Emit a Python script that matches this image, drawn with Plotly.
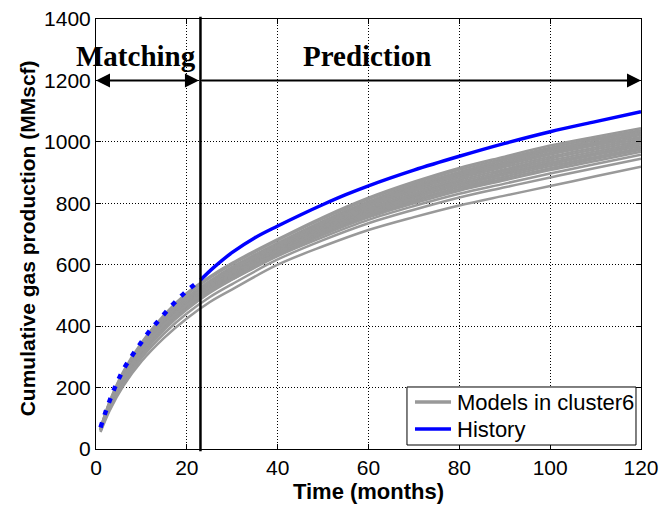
import plotly.graph_objects as go

# Observed production history (months, cumulative gas in MMscf)
hist_months = [1, 2, 3, 4, 5, 6, 8, 10, 12, 14, 16, 18, 20, 23, 26, 30, 35, 40,
               45, 50, 55, 60, 70, 80, 90, 100, 110, 120]
hist_gas = [70, 116, 157, 195, 228, 258, 305, 348, 388, 422, 456, 487, 515, 550,
            592, 640, 688, 726, 762, 796, 828, 857, 908, 953, 995, 1033, 1066, 1098]

# End of the history-matching window (months)
match_end = 23

# Simulated cumulative production of each model in cluster 6
model_months = [1, 3, 6, 10, 15, 20, 25, 30, 40, 50, 60, 70, 80, 90, 100, 110, 120]
model_runs = [
    [68, 155, 252, 346, 437, 508, 561, 606, 683, 755, 818, 870, 915, 952, 988, 1017, 1044],
    [67, 153, 248, 341, 431, 502, 556, 601, 679, 750, 813, 864, 909, 946, 981, 1011, 1038],
    [61, 138, 225, 311, 396, 466, 525, 578, 666, 742, 806, 858, 902, 940, 975, 1005, 1033],
    [66, 150, 243, 335, 424, 494, 547, 593, 671, 742, 803, 854, 898, 934, 970, 999, 1027],
    [66, 148, 240, 331, 419, 489, 542, 589, 668, 738, 799, 849, 893, 929, 964, 994, 1022],
    [65, 146, 236, 326, 414, 484, 538, 585, 665, 734, 795, 845, 888, 924, 959, 989, 1016],
    [65, 145, 234, 324, 410, 480, 534, 581, 661, 729, 790, 839, 882, 918, 952, 982, 1010],
    [64, 143, 232, 321, 407, 476, 530, 576, 656, 725, 784, 833, 876, 911, 946, 976, 1004],
    [63, 142, 230, 318, 404, 472, 527, 572, 652, 720, 779, 828, 870, 905, 939, 969, 998],
    [63, 141, 228, 316, 400, 469, 523, 568, 648, 715, 774, 822, 864, 899, 933, 963, 992],
    [62, 140, 227, 314, 398, 466, 520, 565, 645, 711, 770, 817, 859, 894, 927, 958, 986],
    [61, 138, 225, 311, 394, 462, 516, 561, 641, 707, 765, 811, 853, 887, 921, 951, 980],
    [61, 137, 223, 308, 391, 458, 512, 557, 637, 702, 759, 806, 847, 881, 914, 945, 974],
    [60, 136, 221, 306, 388, 454, 508, 552, 632, 697, 754, 800, 841, 875, 908, 938, 968],
    [64, 143, 232, 321, 405, 470, 515, 552, 628, 690, 746, 791, 831, 864, 897, 928, 958],
    [58, 131, 213, 296, 376, 441, 494, 537, 617, 680, 735, 779, 819, 852, 884, 915, 945],
    [55, 125, 205, 285, 362, 425, 478, 520, 600, 660, 713, 755, 793, 825, 856, 888, 919],
]

x_ticks = [0, 20, 40, 60, 80, 100, 120]
y_ticks = [0, 200, 400, 600, 800, 1000, 1200, 1400]

legend_labels = ["Models in cluster6", "History"]

SANS = "Arial, Liberation Sans, sans-serif"
SERIF = "Times New Roman, Liberation Serif, serif"
GRAY = "#999999"
BLUE = "#0000FF"

fig = go.Figure()

for run in model_runs:
    fig.add_trace(go.Scatter(
        x=model_months, y=run, mode="lines",
        line=dict(color=GRAY, width=2.5, shape="spline"),
        name=legend_labels[0], hoverinfo="skip",
    ))

# History: dotted inside the matching window, solid in the prediction period
m_x = [m for m in hist_months if m <= match_end]
m_y = [g for m, g in zip(hist_months, hist_gas) if m <= match_end]
p_x = [m for m in hist_months if m >= match_end]
p_y = [g for m, g in zip(hist_months, hist_gas) if m >= match_end]

fig.add_trace(go.Scatter(
    x=m_x, y=m_y, mode="lines",
    line=dict(color=BLUE, width=4.5, dash="5px,8px", shape="spline"),
    name=legend_labels[1],
))
fig.add_trace(go.Scatter(
    x=p_x, y=p_y, mode="lines",
    line=dict(color=BLUE, width=3.5, shape="spline"),
    name=legend_labels[1],
))

# Boundary between matching and prediction periods
fig.add_shape(type="line", xref="x", yref="paper",
              x0=match_end, x1=match_end, y0=-0.005, y1=1.005,
              line=dict(color="black", width=2.5), layer="above")

# Period arrows
fig.add_annotation(x=0, y=1200, ax=match_end, ay=1200, xref="x", yref="y",
                   axref="x", ayref="y", text="", showarrow=True,
                   arrowhead=2, arrowside="end+start", startarrowhead=2,
                   arrowsize=1.4, startarrowsize=1.4, arrowwidth=2,
                   arrowcolor="black")
fig.add_annotation(x=120, y=1200, ax=match_end, ay=1200, xref="x", yref="y",
                   axref="x", ayref="y", text="", showarrow=True,
                   arrowhead=2, arrowsize=1.4, arrowwidth=2,
                   arrowcolor="black")

fig.add_annotation(x=8.8, y=1280, xref="x", yref="y", text="<b>Matching</b>",
                   showarrow=False, xanchor="center", yanchor="middle",
                   font=dict(family=SERIF, size=29, color="black"))
fig.add_annotation(x=59.7, y=1280, xref="x", yref="y", text="<b>Prediction</b>",
                   showarrow=False, xanchor="center", yanchor="middle",
                   font=dict(family=SERIF, size=29, color="black"))

# Boxed legend in the lower-right corner of the axes
box_x0, box_x1, box_y0, box_y1 = 0.5706, 0.9908, 0.0093, 0.1442
fig.add_shape(type="rect", xref="paper", yref="paper",
              x0=box_x0, x1=box_x1, y0=box_y0, y1=box_y1,
              line=dict(color="black", width=1), fillcolor="white", layer="above")
for row_y, color, label in [(0.1093, GRAY, legend_labels[0]),
                            (0.0465, BLUE, legend_labels[1])]:
    fig.add_shape(type="line", xref="paper", yref="paper",
                  x0=0.5853, x1=0.6514, y0=row_y, y1=row_y,
                  line=dict(color=color, width=3.5), layer="above")
    fig.add_annotation(x=0.6587, y=row_y, xref="paper", yref="paper",
                       text=label, showarrow=False, xanchor="left",
                       yanchor="middle",
                       font=dict(family=SANS, size=22, color="black"))

# Vertical y-axis title
fig.add_annotation(x=-0.1266, y=0.49, xref="paper", yref="paper",
                   text="<b>Cumulative gas production (MMscf)</b>",
                   textangle=-90, showarrow=False,
                   xanchor="center", yanchor="middle",
                   font=dict(family=SANS, size=21, color="black"))

axis_common = dict(
    showline=True, linecolor="black", linewidth=1, mirror="allticks",
    ticks="inside", ticklen=5, tickcolor="black", tickwidth=1,
    showgrid=True, gridcolor="black", gridwidth=1, griddash="1px,2px",
    zeroline=False, tickfont=dict(family=SANS, size=21, color="black"),
)

fig.update_xaxes(range=[0, 120], tickvals=x_ticks,
                 title=dict(text="<b>Time (months)</b>", standoff=3,
                            font=dict(family=SANS, size=22, color="black")),
                 **axis_common)
fig.update_yaxes(range=[0, 1400], tickvals=y_ticks, **axis_common)

fig.update_layout(
    width=662, height=506,
    margin=dict(l=96, r=21, t=19, b=57, autoexpand=False),
    paper_bgcolor="white", plot_bgcolor="white",
    font=dict(family=SANS, size=22, color="black"),
    showlegend=False,
)

fig.write_html("out.html")
